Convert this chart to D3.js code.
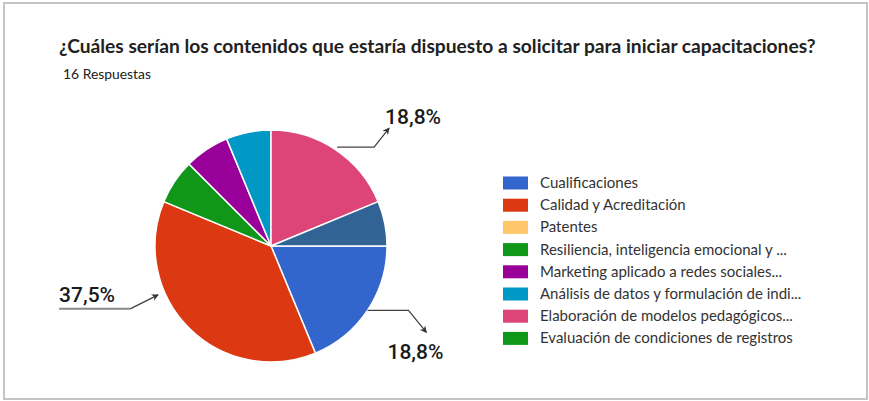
<!DOCTYPE html>
<html><head><meta charset="utf-8">
<script src="https://cdn.jsdelivr.net/npm/d3@7"></script>
<style>
html,body{margin:0;padding:0;background:#fff;}
svg{display:block;}
</style></head>
<body>
<svg id="chart" width="869" height="401"></svg>
<script>
const title = "¿Cuáles serían los contenidos que estaría dispuesto a solicitar para iniciar capacitaciones?";
const subtitle = "16 Respuestas";
const categories = [
  "Cualificaciones",
  "Calidad y Acreditación",
  "Patentes",
  "Resiliencia, inteligencia emocional y ...",
  "Marketing aplicado a redes sociales...",
  "Análisis de datos y formulación de indi...",
  "Elaboración de modelos pedagógicos...",
  "Evaluación de condiciones de registros",
  "Otros"
];
const counts = [3, 6, 0, 1, 1, 1, 3, 0, 1];
const colors = ["#3366cc","#dc3912","#ffc76a","#109618","#990099","#0099c6","#dd4477","#109618","#316395"];
const legendCount = 8;
const labelled = [0, 1, 6]; // slices with percentage labels

const svg = d3.select("#chart");

// frame
svg.append("rect").attr("x", 4).attr("y", 3).attr("width", 863).attr("height", 396)
  .attr("fill", "#fff").attr("stroke", "#c4c4c4").attr("stroke-width", 2);

// title
const t = svg.append("text").attr("x", 59).attr("y", 53)
  .attr("font-family", "Lato, 'Open Sans', sans-serif").attr("font-weight", 700)
  .attr("font-size", 18).attr("fill", "#212121").text(title);
const tw = t.node().getComputedTextLength();
t.attr("font-size", 18 * 757 / tw);

const st = svg.append("text").attr("x", 63).attr("y", 79)
  .attr("font-family", "Lato, sans-serif").attr("font-size", 13).attr("fill", "#212121").text(subtitle);
const sw = st.node().getComputedTextLength();
st.attr("font-size", 13 * 88 / sw);

// pie
const cx = 271, cy = 246, R = 116;
const total = d3.sum(counts);
const data = categories.map((c, i) => ({ name: c, value: counts[i], color: colors[i], i }));
const pie = d3.pie().value(d => d.value).sort(null)
  .startAngle(Math.PI / 2).endAngle(Math.PI / 2 + 2 * Math.PI);
const arcs = pie(data);
const arc = d3.arc().innerRadius(0).outerRadius(R);
const g = svg.append("g").attr("transform", `translate(${cx},${cy})`);
g.selectAll("path").data(arcs.filter(a => a.data.value > 0)).join("path")
  .attr("d", arc).attr("fill", d => d.data.color)
  .attr("stroke", "#fff").attr("stroke-width", 1.5);

// arrow marker
const defs = svg.append("defs");
defs.append("marker").attr("id", "arr").attr("viewBox", "0 0 10 10")
  .attr("refX", 9).attr("refY", 5).attr("markerWidth", 7).attr("markerHeight", 7)
  .attr("markerUnits", "userSpaceOnUse").attr("orient", "auto")
  .append("path").attr("d", "M0,0 L10,5 L0,10 L3,5 Z").attr("fill", "#333");

const fmt = v => (Math.round(v / total * 1000) / 10).toFixed(1).replace(".", ",") + "%";
const edge = (a, r) => [cx + r * Math.sin(a), cy - r * Math.cos(a)];
const labelFont = "Roboto, 'Noto Sans', sans-serif";
const lines = svg.append("g").attr("fill", "none").attr("stroke", "#444").attr("stroke-width", 1.3);

labelled.forEach(idx => {
  const a = arcs[idx];
  const mid = (a.startAngle + a.endAngle) / 2;
  const txt = fmt(a.data.value);
  if (Math.sin(mid) > 0 && Math.cos(mid) > 0) {
    const p0 = edge(mid, R + 3);
    const p1 = [p0[0] + 37, p0[1]];
    const p2 = [p1[0] + 15, p1[1] - 19];
    lines.append("path").attr("d", d3.line()([p0, p1, p2])).attr("marker-end", "url(#arr)");
    svg.append("text").attr("x", p2[0] - 4).attr("y", p2[1] - 4)
      .attr("font-family", labelFont).attr("font-weight", 500).attr("font-size", 21)
      .attr("fill", "#1a1a1a").text(txt);
  } else if (Math.sin(mid) > 0) {
    const p0 = edge(mid, R);
    const p1 = [p0[0] + 41, p0[1]];
    const p2 = [p1[0] + 18, p1[1] + 22];
    lines.append("path").attr("d", d3.line()([p0, p1, p2])).attr("marker-end", "url(#arr)");
    svg.append("text").attr("x", p2[0] - 11).attr("y", p2[1] + 27).attr("text-anchor", "middle")
      .attr("font-family", labelFont).attr("font-weight", 500).attr("font-size", 21)
      .attr("fill", "#1a1a1a").text(txt);
  } else {
    const ang = a.startAngle + (a.endAngle - a.startAngle) * 0.66;
    const tip = edge(ang, R + 7);
    const p1 = [tip[0] - 28, tip[1] + 14];
    const p0 = [p1[0] - 71, p1[1]];
    svg.append("line").attr("x1", p0[0]).attr("y1", p0[1]).attr("x2", p1[0]).attr("y2", p1[1])
      .attr("stroke", "#888").attr("stroke-width", 2);
    lines.append("path").attr("d", d3.line()([p1, tip])).attr("marker-end", "url(#arr)");
    svg.append("text").attr("x", p0[0]).attr("y", p0[1] - 7)
      .attr("font-family", labelFont).attr("font-weight", 500).attr("font-size", 21)
      .attr("fill", "#1a1a1a").text(txt);
  }
});

// legend
const leg = svg.append("g").attr("transform", "translate(503,183)");
const li = leg.selectAll("g").data(data.slice(0, legendCount)).join("g")
  .attr("transform", (d, i) => `translate(0,${i * 22.2})`);
li.append("rect").attr("x", 0).attr("y", -6.5).attr("width", 25).attr("height", 13).attr("fill", d => d.color);
li.append("text").attr("x", 37).attr("y", 5).attr("font-family", "Lato, sans-serif")
  .attr("font-size", 15).attr("fill", "#333").text(d => d.name);
</script>
</body></html>
